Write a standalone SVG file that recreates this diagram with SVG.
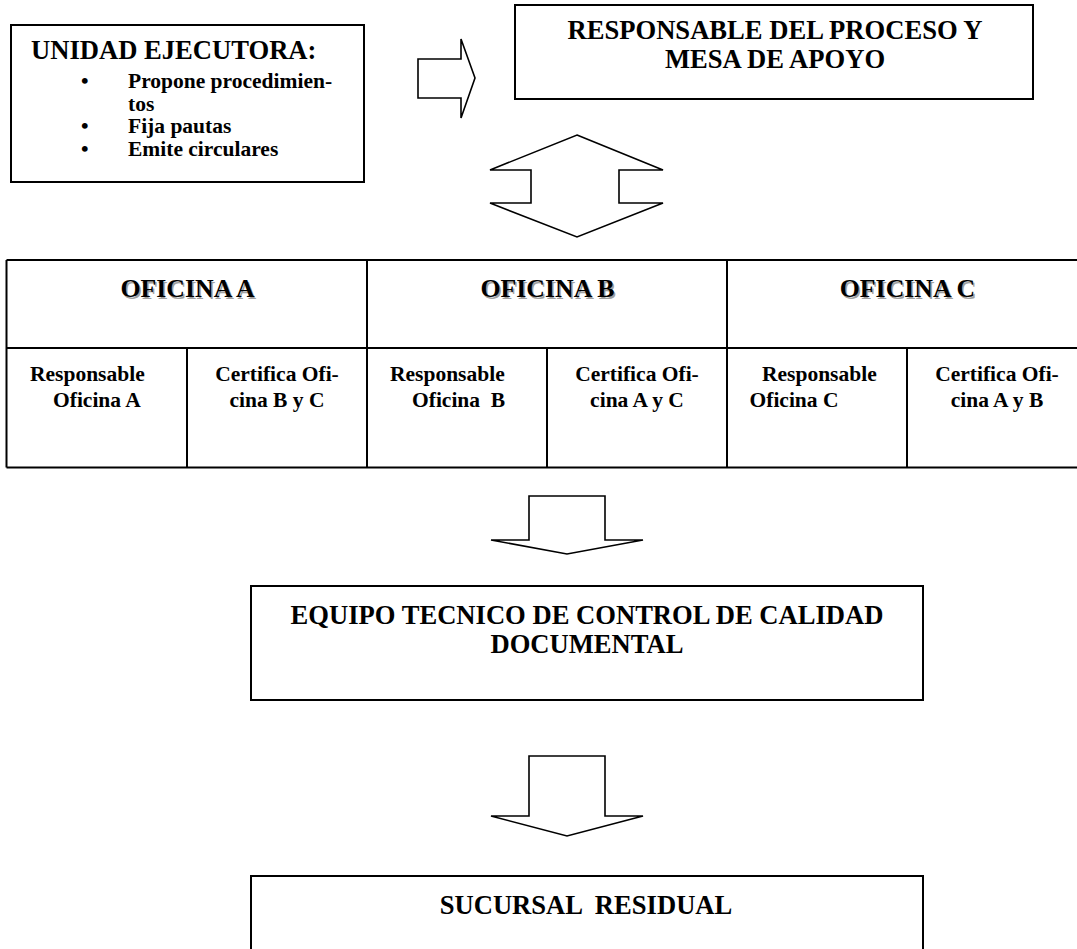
<svg xmlns="http://www.w3.org/2000/svg" width="1077" height="949" viewBox="0 0 1077 949">
<style>
  .box { fill: #fff; stroke: #000; stroke-width: 2; }
  .line { stroke: #000; stroke-width: 2; fill: none; }
  .arrow { fill: #fff; stroke: #000; stroke-width: 1.6; stroke-linejoin: miter; }
  text { font-family: "Liberation Serif", "Times New Roman", serif; font-weight: bold; fill: #000; }
  .h { font-size: 26.6px; }
  .b { font-size: 21.5px; }
  .oh { font-size: 25.8px; }
  .sh { fill: #a0a0a0; }
  .c { text-anchor: middle; }
</style>
<rect width="1077" height="949" fill="#fff"/>

<g id="unidad-ejecutora">
  <rect class="box" x="11" y="25" width="353" height="157"/>
  <text class="h" x="31" y="59">UNIDAD EJECUTORA:</text>
  <text class="b" x="81" y="88">•</text>
  <text class="b" x="128" y="88">Propone procedimien-</text>
  <text class="b" x="128" y="111">tos</text>
  <text class="b" x="81" y="133">•</text>
  <text class="b" x="128" y="133">Fija pautas</text>
  <text class="b" x="81" y="156">•</text>
  <text class="b" x="128" y="156">Emite circulares</text>
</g>

<g id="responsable-proceso">
  <rect class="box" x="515" y="5" width="518" height="94"/>
  <text class="h c" x="775" y="39">RESPONSABLE DEL PROCESO Y</text>
  <text class="h c" x="775" y="68">MESA DE APOYO</text>
</g>

<g id="oficinas">
  <path class="line" d="M6.5 260 H1090 M6.5 348 H1090 M6.5 467.5 H1090 M6.5 260 V467.5 M367 260 V467.5 M727 260 V467.5 M187 348 V467.5 M547 348 V467.5 M907 348 V467.5"/>
  <g id="oficina-a">
    <text class="oh c sh" x="189" y="298.5">OFICINA A</text>
    <text class="oh c" x="187.5" y="297">OFICINA A</text>
    <text class="b" x="30" y="381">Responsable</text>
    <text class="b" x="53" y="407">Oficina A</text>
    <text class="b c" x="277" y="381">Certifica Ofi-</text>
    <text class="b c" x="277" y="407">cina B y C</text>
  </g>
  <g id="oficina-b">
    <text class="oh c sh" x="549" y="298.5">OFICINA B</text>
    <text class="oh c" x="547.5" y="297">OFICINA B</text>
    <text class="b" x="390" y="381">Responsable</text>
    <text class="b" x="412" y="407" xml:space="preserve">Oficina  B</text>
    <text class="b c" x="637" y="381">Certifica Ofi-</text>
    <text class="b c" x="637" y="407">cina A y C</text>
  </g>
  <g id="oficina-c">
    <text class="oh c sh" x="909" y="298.5">OFICINA C</text>
    <text class="oh c" x="907.5" y="297">OFICINA C</text>
    <text class="b" x="762" y="381">Responsable</text>
    <text class="b" x="749.5" y="407">Oficina C</text>
    <text class="b c" x="997" y="381">Certifica Ofi-</text>
    <text class="b c" x="997" y="407">cina A y B</text>
  </g>
</g>

<g id="equipo-tecnico">
  <rect class="box" x="251" y="586" width="672" height="114"/>
  <text class="h c" x="587" y="624">EQUIPO TECNICO DE CONTROL DE CALIDAD</text>
  <text class="h c" x="587" y="653">DOCUMENTAL</text>
</g>

<g id="sucursal-residual">
  <rect class="box" x="251" y="876" width="672" height="90"/>
  <text class="h c" x="586" y="914" xml:space="preserve">SUCURSAL  RESIDUAL</text>
</g>

<g id="connectors">
  <polygon class="arrow" points="418,59 461,59 461,39 475,78 461,118 461,98 418,98"/>
  <polygon class="arrow" points="577,135 663,170 619,170 619,203 663,203 577,237 490,203 531,203 531,170 490,170"/>
  <polygon class="arrow" points="529,496 605,496 605,540 643,540 567,554 491,540 529,540"/>
  <polygon class="arrow" points="529,756 605,756 605,816 643,816 567,836 491,816 529,816"/>
</g>
</svg>
